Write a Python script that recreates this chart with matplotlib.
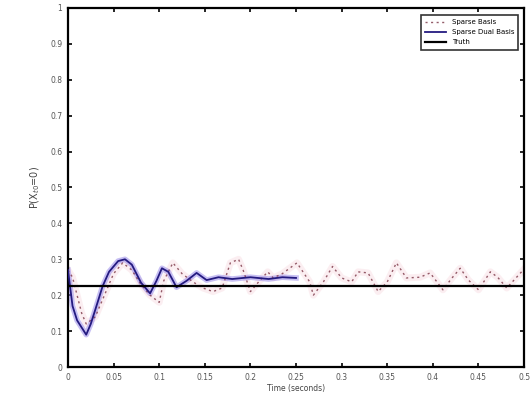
import matplotlib.pyplot as plt

# --- data ---
t_sparse = [0, 0.005, 0.01, 0.015, 0.02, 0.03, 0.04, 0.05, 0.06, 0.07, 0.08, 0.09,
            0.1, 0.105, 0.115, 0.125, 0.137, 0.148, 0.159, 0.169, 0.178, 0.187,
            0.192, 0.2, 0.21, 0.219, 0.225, 0.235, 0.251, 0.265, 0.269, 0.28,
            0.29, 0.3, 0.311, 0.318, 0.329, 0.34, 0.35, 0.36, 0.371, 0.386,
            0.397, 0.411, 0.421, 0.43, 0.439, 0.45, 0.463, 0.471, 0.481, 0.499]
p_sparse = [0.27, 0.25, 0.2, 0.15, 0.12, 0.14, 0.2, 0.26, 0.29, 0.27, 0.23, 0.2,
            0.18, 0.24, 0.29, 0.26, 0.237, 0.22, 0.21, 0.22, 0.29, 0.30,
            0.27, 0.21, 0.24, 0.265, 0.248, 0.26, 0.29, 0.237, 0.2, 0.237,
            0.28, 0.248, 0.237, 0.265, 0.262, 0.21, 0.237, 0.29, 0.248, 0.25,
            0.262, 0.215, 0.248, 0.275, 0.242, 0.215, 0.265, 0.25, 0.22, 0.27]

t_dual = [0, 0.005, 0.01, 0.015, 0.02, 0.025, 0.03, 0.038, 0.045, 0.055, 0.0625,
          0.07, 0.08, 0.09, 0.097, 0.103, 0.11, 0.119, 0.13, 0.141, 0.152,
          0.165, 0.18, 0.2, 0.22, 0.235, 0.25]
p_dual = [0.27, 0.17, 0.13, 0.11, 0.09, 0.12, 0.16, 0.225, 0.265, 0.295, 0.30,
          0.285, 0.235, 0.205, 0.24, 0.275, 0.265, 0.222, 0.24, 0.262, 0.242,
          0.25, 0.245, 0.25, 0.245, 0.25, 0.248]

truth = 0.225
x_ticks = [0, 0.05, 0.1, 0.15, 0.2, 0.25, 0.3, 0.35, 0.4, 0.45, 0.5]
x_labels = ['0', '0.05', '0.1', '0.15', '0.2', '0.25', '0.3', '0.35', '0.4', '0.45', '0.5']
y_ticks = [0, 0.1, 0.2, 0.3, 0.4, 0.5, 0.6, 0.7, 0.8, 0.9, 1]
y_labels = ['0', '0.1', '0.2', '0.3', '0.4', '0.5', '0.6', '0.7', '0.8', '0.9', '1']

fig = plt.figure(figsize=(5.31, 3.94), dpi=100)
ax = fig.add_axes([0.128, 0.0685, 0.859, 0.9115])

# soft halos behind the lines
ax.plot(t_sparse, p_sparse, color='#f6d0d8', lw=5, alpha=0.35, zorder=1)
ax.plot(t_dual, p_dual, color='#9080e8', lw=4, alpha=0.5, zorder=2)

ax.plot(t_sparse, p_sparse, color='#7a3444', lw=1.0, ls='--', dashes=(1.5, 2.5),
        alpha=0.8, label='Sparse Basis', zorder=3)
ax.plot(t_dual, p_dual, color='#241a80', lw=1.3, label='Sparse Dual Basis', zorder=4)
ax.axhline(truth, color='black', lw=1.6, label='Truth', zorder=5)

ax.set_xlim(0, 0.5)
ax.set_ylim(0, 1)
ax.set_xticks(x_ticks)
ax.set_xticklabels(x_labels)
ax.set_yticks(y_ticks)
ax.set_yticklabels(y_labels)
ax.tick_params(direction='in', length=3, width=1.2, labelsize=5.5,
               labelcolor='#555555', top=True, right=True, pad=4)
for s in ax.spines.values():
    s.set_linewidth(1.6)

ax.set_xlabel('Time (seconds)', fontsize=5.5, color='#444444', labelpad=2)
ax.set_ylabel('P(X$_{t0}$=0)', fontsize=7, color='#444444', labelpad=6)

leg = ax.legend(loc='upper right', fontsize=5, frameon=True, fancybox=False,
                edgecolor='black', handlelength=3.0, borderpad=0.6,
                labelspacing=0.6, bbox_to_anchor=(0.995, 0.99))
leg.get_frame().set_linewidth(1.2)

fig.savefig('out.png', dpi=100)
